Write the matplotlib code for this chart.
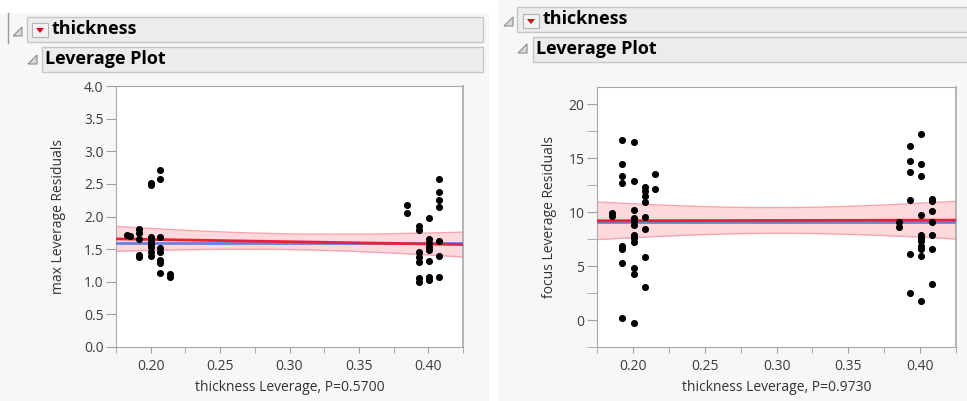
import numpy as np
import matplotlib.pyplot as plt
from matplotlib.patches import Rectangle, Polygon

plt.rcParams['font.family'] = ['Open Sans', 'DejaVu Sans']

# max residuals vs thickness leverage
x_max = [0.183, 0.185,
         0.1913, 0.1913, 0.1913, 0.1913, 0.1913,
         0.200, 0.200, 0.200, 0.200, 0.200, 0.200, 0.200, 0.200, 0.200,
         0.2065, 0.2065, 0.2065, 0.2065, 0.2065, 0.2065, 0.2065, 0.2065,
         0.2138, 0.2138,
         0.385, 0.385,
         0.393, 0.393, 0.393, 0.393, 0.393, 0.393, 0.393,
         0.4005, 0.4005, 0.4005, 0.4005, 0.4005, 0.4005, 0.4005, 0.4005,
         0.408, 0.408, 0.408, 0.408, 0.408, 0.408, 0.408]
y_max = [1.72, 1.70,
         1.81, 1.74, 1.66, 1.41, 1.38,
         2.52, 2.48, 1.69, 1.66, 1.62, 1.58, 1.54, 1.45, 1.40,
         2.71, 2.58, 1.69, 1.52, 1.45, 1.34, 1.29, 1.14,
         1.12, 1.08,
         2.18, 2.06,
         1.85, 1.80, 1.45, 1.38, 1.31, 1.05, 1.00,
         1.98, 1.65, 1.60, 1.54, 1.49, 1.32, 1.08, 1.03,
         2.57, 2.37, 2.25, 2.15, 1.62, 1.40, 1.08]

# focus residuals vs thickness leverage
x_focus = [0.1854, 0.1854,
           0.1926, 0.1926, 0.1926, 0.1926, 0.1926, 0.1926, 0.1926, 0.1926,
           0.2005, 0.2005, 0.2005, 0.2005, 0.2005, 0.2005, 0.2005, 0.2005,
           0.2005, 0.2005, 0.2005, 0.2005,
           0.2081, 0.2081, 0.2081, 0.2081, 0.2081, 0.2081, 0.2081, 0.2081,
           0.2155, 0.2155,
           0.3856, 0.3856,
           0.3931, 0.3931, 0.3931, 0.3931, 0.3931, 0.3931,
           0.4005, 0.4005, 0.4005, 0.4005, 0.4005, 0.4005, 0.4005, 0.4005,
           0.4005, 0.4005, 0.4005,
           0.408, 0.408, 0.408, 0.408, 0.408, 0.408, 0.408]
y_focus = [9.88, 9.67,
           16.7, 14.47, 13.38, 12.67, 6.88, 6.57, 5.24, 0.22,
           16.54, 12.92, 10.19, 9.45, 9.14, 8.83, 7.9, 7.59,
           7.19, 4.86, 4.3, -0.25,
           12.36, 11.99, 11.52, 10.9, 9.57, 8.43, 5.85, 3.07,
           13.54, 12.11,
           9.05, 8.58,
           16.1, 14.78, 13.69, 11.12, 6.16, 2.54,
           17.26, 14.47, 13.38, 9.73, 7.9, 7.59, 7.28, 6.88,
           6.57, 5.95, 1.77,
           11.22, 11.0, 10.07, 9.05, 7.9, 6.57, 3.32]

# fit line ends, mean line and confidence half-widths (center, edge)
fit_max = (1.657, 1.570)
mean_max = 1.60
ci_max = (0.12, 0.19)
fit_focus = (9.20, 9.26)
mean_focus = 9.08
ci_focus = (1.19, 1.75)

xlo, xhi = 0.175, 0.425

fig = plt.figure(figsize=(9.67, 4.01), dpi=100)

# background layer in pixel units
bg = fig.add_axes([0, 0, 1, 1])
bg.set_xlim(0, 967)
bg.set_ylim(401, 0)
bg.axis('off')


def header(x0, y0, w, tri_x, tri_y, label, btn=None, fs=13):
    bg.add_patch(Rectangle((x0, y0), w, 25, fc='#ececec', ec='#c6c6c6', lw=1))
    bg.add_patch(Polygon([(tri_x, tri_y + 9), (tri_x + 9, tri_y), (tri_x + 9, tri_y + 9)],
                         closed=True, fc='#d8d8d8', ec='#8c8c8c', lw=0.8))
    tx = x0 + 3
    if btn is not None:
        bx, by = btn
        bg.add_patch(Rectangle((bx, by), 16, 14, fc='#f2f2f2', ec='#b4b4b4', lw=0.8))
        bg.add_patch(Polygon([(bx + 4, by + 5), (bx + 12, by + 5), (bx + 8, by + 10)],
                             closed=True, fc='#e0001b', ec='none'))
        tx = bx + 20
    bg.text(tx, y0 + 12.5, label, fontsize=fs, fontweight='bold', va='center', ha='left',
            color='black')


# left panel frame
bg.add_patch(Rectangle((0, 13), 489, 388, fc='#f7f7f7', ec='none'))
bg.plot([8, 8], [13, 43], color='#9a9a9a', lw=1)
header(27, 17, 456, 13, 27, 'thickness', btn=(32, 23))
header(42, 47, 441, 28, 55, 'Leverage Plot')

# right panel frame
bg.add_patch(Rectangle((499, 0), 468, 401, fc='#f7f7f7', ec='none'))
header(517, 7, 460, 504, 17, 'thickness', btn=(523, 14))
header(533, 37, 440, 518, 44, 'Leverage Plot')


def leverage(rect, xs, ys, fit, mean, ci, ylim, yticks, yminor, ylabel, xlabel, ylab_x):
    ax = fig.add_axes(rect)
    xx = np.linspace(xlo, xhi, 120)
    line = fit[0] + (fit[1] - fit[0]) * (xx - xlo) / (xhi - xlo)
    u = (xx - 0.30) / 0.125
    hw = np.sqrt(ci[0] ** 2 + (ci[1] ** 2 - ci[0] ** 2) * u ** 2)
    ax.fill_between(xx, line - hw, line + hw, color='#fdd8dd', lw=0, zorder=1)
    ax.plot(xx, line + hw, color='#f5a5b0', lw=1, zorder=2)
    ax.plot(xx, line - hw, color='#f5a5b0', lw=1, zorder=2)
    ax.axhline(mean, color='#6e7ee0', lw=2, zorder=3)
    ax.plot(xx, line, color='#e8203a', lw=2, zorder=4)
    ax.scatter(xs, ys, s=26, color='black', lw=0, zorder=5)

    ax.set_xlim(xlo, xhi)
    ax.set_ylim(*ylim)
    ax.set_xticks([0.20, 0.25, 0.30, 0.35, 0.40])
    ax.set_xticks(np.arange(0.175, 0.426, 0.025), minor=True)
    ax.set_yticks(yticks)
    if yminor is not None:
        ax.set_yticks(yminor, minor=True)
    ax.tick_params(axis='x', which='both', length=4, color='#a0a0a0', pad=5,
                   labelsize=10, labelcolor='#3c3c3c')
    ax.tick_params(axis='y', which='both', length=7, color='#a0a0a0', pad=2,
                   labelsize=10, labelcolor='#3c3c3c')
    for s in ax.spines.values():
        s.set_color('#a8a8a8')
    ax.spines['top'].set_visible(False)
    ax.spines['right'].set_visible(False)
    ax.plot([1, 1], [0, 1], transform=ax.transAxes, color='#a8a8a8', lw=1.2, clip_on=False)
    ax.plot([0, 1], [1, 1], transform=ax.transAxes, color='#a8a8a8', lw=0.8, clip_on=False)

    ax.set_ylabel(ylabel, fontsize=10, color='#333333')
    ax.yaxis.set_label_coords(ylab_x, 0.5)
    ax.yaxis.label.set_va('center')
    ax.set_xlabel(xlabel, fontsize=10, color='#333333')
    ax.xaxis.set_label_coords(0.5, -0.155)
    ax.xaxis.label.set_va('center')
    return ax


ax1 = leverage([116 / 967, 1 - 347 / 401, 347 / 967, 261 / 401], x_max, y_max,
               fit_max, mean_max, ci_max, (0, 4.0),
               [0, 0.5, 1.0, 1.5, 2.0, 2.5, 3.0, 3.5, 4.0], None,
               'max Leverage Residuals', 'thickness Leverage, P=0.5700', -0.167)
ax1.set_yticklabels(['0.0', '0.5', '1.0', '1.5', '2.0', '2.5', '3.0', '3.5', '4.0'])

ax2 = leverage([597 / 967, 1 - 347 / 401, 359 / 967, 260 / 401], x_focus, y_focus,
               fit_focus, mean_focus, ci_focus, (-2.5, 21.6),
               [0, 5, 10, 15, 20], [-2.5, 2.5, 7.5, 12.5, 17.5],
               'focus Leverage Residuals', 'thickness Leverage, P=0.9730', -0.131)

fig.savefig('out.png', dpi=100)
